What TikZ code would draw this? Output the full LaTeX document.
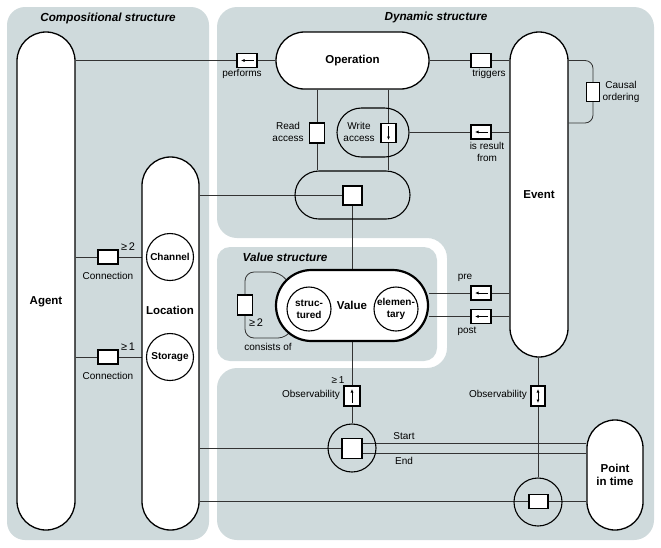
\documentclass[tikz,border=0pt]{standalone}
\usepackage{fontspec}
\setmainfont{Liberation Sans}
\usetikzlibrary{arrows.meta}
\pgfdeclarelayer{background}
\pgfsetlayers{background,main}
\definecolor{panelgray}{RGB}{207,218,220}
\tikzset{
  pill/.style={draw, fill=white, line width=1.3pt, inner sep=0pt, align=center,
    font=\bfseries\fontsize{11.5}{13.5}\selectfont},
  ring/.style={draw, circle, line width=1.1pt, inner sep=0pt, align=center,
    font=\bfseries\fontsize{10}{12}\selectfont},
  rel/.style={draw, fill=white, line width=1.1pt, inner sep=0pt,
    minimum width=20pt, minimum height=14pt},
  relv/.style={rel, minimum width=15pt, minimum height=20pt},
  lab/.style={inner sep=0pt, align=center, font=\fontsize{10}{12}\selectfont},
  title/.style={inner sep=0pt, font=\bfseries\itshape\fontsize{11.7}{14}\selectfont},
  conn/.style={draw=black!80, line width=0.8pt},
  tip/.style={-{Latex[length=3.5pt,width=3pt]}, line width=0.7pt},
}

\begin{document}
\begin{tikzpicture}[x=1pt,y=-1pt]
      \useasboundingbox (0,0) rectangle (661,547);

      % big pills
      \node (ag) at (46,281) [pill, minimum width=58pt, minimum height=498pt, rounded corners=29pt] {};
      \node (loc) at (170.5,343.5) [pill, minimum width=57pt, minimum height=373pt, rounded corners=28.5pt] {};
      \node (op) at (352.5,60.5) [pill, minimum width=153pt, minimum height=57pt, rounded corners=28.5pt] {Operation};
      \node (ev) at (539,194.5) [pill, minimum width=58pt, minimum height=325pt, rounded corners=29pt] {Event};
      \node (pt) at (615,475) [pill, minimum width=56pt, minimum height=110pt, rounded corners=28pt] {Point\\in time};
      \node (val) at (352,305.5) [pill, line width=2.2pt, minimum width=152pt, minimum height=71pt, rounded corners=35.5pt] {Value};
      \node (wr) at (373,132.5) [pill, fill=none, line width=1.1pt, minimum width=72pt, minimum height=49pt, rounded corners=24.5pt] {};
      \node (lp) at (352.5,195) [pill, fill=none, line width=1.1pt, minimum width=115pt, minimum height=48pt, rounded corners=24pt] {};
      \node (agl) at (46,302) [inner sep=0pt, font=\bfseries\fontsize{11.5}{13.5}\selectfont] {Agent};
      \node (lcl) at (170,310) [inner sep=0pt, font=\bfseries\fontsize{11.5}{13.5}\selectfont] {Location};

      % circles
      \node (ch) at (170,257) [ring, fill=white, minimum size=47pt] {Channel};
      \node (sto) at (170,357) [ring, fill=white, minimum size=47pt] {Storage};
      \node (sd) at (309,309) [ring, fill=white, minimum size=44pt] {struc-\\tured};
      \node (ed) at (396,309) [ring, fill=white, minimum size=44pt] {elemen-\\tary};
      \node (c1) at (352,448) [ring, minimum size=48pt] {};
      \node (c2) at (538,502) [ring, minimum size=48pt] {};

      % relation boxes
      \node (pf) at (247,60.5) [rel] {};
      \node (trb) at (481,60.5) [rel] {};
      \node (co) at (593,92) [relv, minimum width=13pt, minimum height=19pt] {};
      \node (rb) at (317,133) [relv] {};
      \node (wb) at (388.5,133) [relv, minimum height=19pt] {};
      \node (irb) at (481,132) [rel] {};
      \node (lb) at (352.5,195.5) [rel, minimum width=19pt, minimum height=19pt] {};
      \node (cb1) at (108,257) [rel] {};
      \node (cb2) at (108,357) [rel] {};
      \node (cob) at (245,305) [relv] {};
      \node (prb) at (481,293) [rel] {};
      \node (pob) at (481,316.5) [rel] {};
      \node (ob1) at (352,396) [relv, minimum width=16pt] {};
      \node (ob2) at (538,396) [relv, minimum width=14pt] {};
      \node (tb1) at (352,448.5) [rel, minimum height=20pt] {};
      \node (tb2) at (538.5,501.5) [rel, minimum width=19pt] {};

      % arrows in the boxes
      \draw[tip] ([xshift=7pt]pf.center) -- ([xshift=-6pt]pf.center);
      \draw[tip] ([xshift=7pt]irb.center) -- ([xshift=-6pt]irb.center);
      \draw[tip] ([xshift=7pt]prb.center) -- ([xshift=-6pt]prb.center);
      \draw[tip] ([xshift=7pt]pob.center) -- ([xshift=-6pt]pob.center);
      \draw[tip] ([yshift=7pt]wb.center) -- ([yshift=-7pt]wb.center);
      \draw[tip] ([yshift=-7pt]ob1.center) -- ([yshift=7pt]ob1.center);
      \draw[{Latex[length=3.5pt,width=3pt]}-{Latex[length=3.5pt,width=3pt]}, line width=0.7pt]
        ([yshift=-7pt]ob2.center) -- ([yshift=7pt]ob2.center);

      % titles and labels
      \node (tc) at (108,18) [title] {Compositional structure};
      \node (td) at (436,17.5) [title] {Dynamic structure};
      \node (tv) at (285,257) [title] {Value structure};
      \node (pfl) at (242,74) [lab] {performs};
      \node (trl) at (489,74) [lab] {triggers};
      \node (col) at (621,91.5) [lab] {Causal\\ordering};
      \node (rdl) at (288,132) [lab] {Read\\access};
      \node (wrl) at (359,132) [lab] {Write\\access};
      \node (irl) at (487,152) [lab] {is result\\from};
      \node (gt1) at (128,247) [lab, font=\fontsize{11}{12}\selectfont] {≥\,2};
      \node (cn1) at (108,276) [lab] {Connection};
      \node (gt2) at (128,347) [lab, font=\fontsize{11}{12}\selectfont] {≥\,1};
      \node (cn2) at (108,376) [lab] {Connection};
      \node (gt3) at (256,323) [lab, font=\fontsize{11}{12}\selectfont] {≥\,2};
      \node (cof) at (268,347) [lab] {consists of};
      \node (prl) at (465,278) [lab] {pre};
      \node (pol) at (467,331) [lab] {post};
      \node (gt4) at (338,380) [lab] {≥\,1};
      \node (obl1) at (311,395) [lab] {Observability};
      \node (obl2) at (498,395) [lab] {Observability};
      \node (stl) at (404,436) [lab] {Start};
      \node (enl) at (404,461) [lab] {End};

      \begin{pgfonlayer}{background}
      % panels
      \fill[panelgray, rounded corners=18pt] (7,7) rectangle (209,540);
      \fill[panelgray, rounded corners=20pt] (217,7) -- (654,7) -- (654,540) -- (217,540)
        -- (217,368) -- (447,368) -- (447,238) -- (217,238) -- cycle;
      \fill[panelgray, rounded corners=13pt] (217,247) rectangle (437,361);

      % connectors
      \coordinate (co1) at (593,60.5);
      \coordinate (co2) at (593,123);
      \draw[conn] (ag.east |- op.west) -- (op.west);
      \draw[conn] (op.east) -- (ev.west |- op.east);
      \draw[conn, rounded corners=8pt] (ev.east |- co1) -- (co1) -- (co2) -- (ev.east |- co2);
      \draw[conn] (op.south -| rb) -- (lp.north -| rb);
      \draw[conn] (op.south -| wb) -- (lp.north -| wb);
      \draw[conn] (ev.west |- irb) -- (wr.east |- irb);
      \draw[conn] (loc.east |- lb) -- (lb);
      \draw[conn] (lb) -- (val.north -| lb);
      \draw[conn] (ag.east |- cb1) -- (ch.west);
      \draw[conn] (ag.east |- cb2) -- (sto.west);
      \draw[conn, rounded corners=9pt] ([shift={(128:35pt)}]sd.center) -- (280,272) -- (245,272)
        -- (cob) -- (245,338) -- (287,338) -- (sd.228);
      \draw[conn] (ev.west |- prb) -- (val.east |- prb);
      \draw[conn] (ev.west |- pob) -- (val.east |- pob);
      \draw[conn] (val.south -| ob1) -- (c1.north);
      \draw[conn] (loc.east |- tb1) -- (tb1);
      \draw[conn] ([yshift=5pt]tb1.east) -- ([yshift=5pt]tb1.east -| pt.west);
      \draw[conn] ([yshift=-5pt]tb1.east) -- ([yshift=-5pt]tb1.east -| pt.west);
      \draw[conn] (ev.south -| c2) -- (c2.north);
      \draw[conn] (loc.east |- tb2) -- (pt.west |- tb2);
      \end{pgfonlayer}
\end{tikzpicture}
\end{document}
